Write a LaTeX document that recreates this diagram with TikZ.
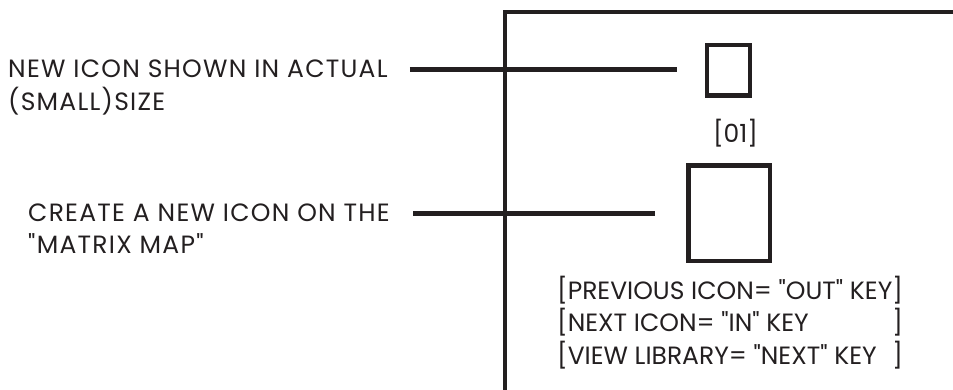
\documentclass[tikz,border=0pt]{standalone}
\usepackage{fontspec}
\setmainfont{Poppins}[Ligatures=TeXOff]
\newfontfamily\largo{Poppins}[Ligatures=TeXOff, LetterSpace=5]
\definecolor{ink}{HTML}{231F20}
\begin{document}
\begin{tikzpicture}[x=1pt, y=-1pt,
    every node/.style={text=ink, inner sep=0pt, font=\fontsize{25}{31}\selectfont},
    nota/.style={anchor=base west, font=\fontsize{25}{31}\largo},
    icona/.style={draw=ink, line width=4.5pt},
    filo/.style={draw=ink, line width=4.5pt}]
    \useasboundingbox (0,0) rectangle (953,390);

    % Cornice
    \draw[filo] (505,395) -- (505,12) -- (953,12);

    % Icone
    \node[icona, minimum width=43pt, minimum height=50.5pt] (P) at (728.5,70.5) {};
    \node[icona, minimum width=81.5pt, minimum height=95.5pt] (G) at (729,213.3) {};
    \node (N) at (735.5,133) {[01]};

    % Testi a sinistra
    \node[nota] (A1) at (8,78) {NEW ICON SHOWN IN ACTUAL};
    \node[nota] (A2) at (8,111) {(SMALL)SIZE};
    \node[nota] (B1) at (28,222) {CREATE A NEW ICON ON THE};
    \node[nota] (B2) at (28,254) {"MATRIX MAP"};

    % Tasti
    \node[anchor=base west] (K) at (557,299) {\begin{tabular}[t]{@{}l@{}r@{}}
        {[}PREVIOUS ICON= "OUT" KEY & ]\\
        {[}NEXT ICON= "IN" KEY & ]\\
        {[}VIEW LIBRARY= "NEXT" KEY & ]
    \end{tabular}};

    % Collegamenti
    \draw[filo, shorten <=22pt, shorten >=28pt] (A1.east) -- (A1.east -| P.west);
    \draw[filo, shorten <=23pt, shorten >=31pt] (B1.east) -- (B1.east -| G.west);
\end{tikzpicture}
\end{document}
